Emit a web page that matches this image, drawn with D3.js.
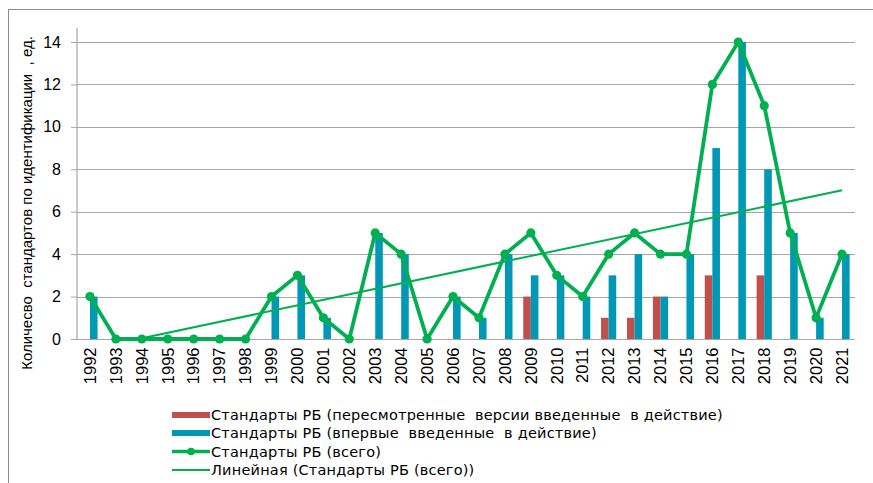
<!DOCTYPE html>
<html><head><meta charset="utf-8">
<script src="https://cdn.jsdelivr.net/npm/d3@7/dist/d3.min.js"></script>
<style>body{margin:0;background:#fff}svg{display:block}text{font-family:"Liberation Sans",Arial,sans-serif;fill:#000}</style>
</head><body><svg id="c" width="873" height="483"></svg>
<script>
const years = ["1992","1993","1994","1995","1996","1997","1998","1999","2000","2001","2002","2003","2004","2005","2006","2007","2008","2009","2010","2011","2012","2013","2014","2015","2016","2017","2018","2019","2020","2021"];
const revised = [0,0,0,0,0,0,0,0,0,0,0,0,0,0,0,0,0,2,0,0,1,1,2,0,3,0,3,0,0,0];
const firstTime = [2,0,0,0,0,0,0,2,3,1,0,5,4,0,2,1,4,3,3,2,3,4,2,4,9,14,8,5,1,4];
const total = [2,0,0,0,0,0,0,2,3,1,0,5,4,0,2,1,4,5,3,2,4,5,4,4,12,14,11,5,1,4];
const yTicks = [0,2,4,6,8,10,12,14];
const legendLabels = ["Стандарты РБ (пересмотренные  версии введенные  в действие)","Стандарты РБ (впервые  введенные  в действие)","Стандарты РБ (всего)","Линейная (Стандарты РБ (всего))"];
const yTitle = "Количесво  стандартов по идентификации  , ед.";

const C = {red:"#C0504D", blue:"#0098B4", green:"#00B050", grid:"#A6A6A6"};
const svg = d3.select("#c");
const L=77, R=855, T=42, B=339;
const x = d3.scaleBand().domain(years).range([L,R]).padding(0);
const y = d3.scaleLinear().domain([0,14]).range([B,T]);
const cx = d => x(d)+x.bandwidth()/2;
const bw = 7.6;

// border
svg.append("rect").attr("x",8.5).attr("y",9.5).attr("width",900).attr("height",600).attr("fill","none").attr("stroke","#8c8c8c").attr("stroke-width",1);

// grid
svg.append("g").selectAll("line").data(yTicks.filter(v=>v>0)).join("line")
  .attr("x1",L).attr("x2",R).attr("y1",d=>Math.round(y(d))+0.5).attr("y2",d=>Math.round(y(d))+0.5)
  .attr("stroke",C.grid).attr("stroke-width",1.2);

// bars
svg.append("g").selectAll("rect").data(years).join("rect")
  .attr("x",(d)=>cx(d)-bw).attr("width",bw)
  .attr("y",(d,i)=>y(revised[i])).attr("height",(d,i)=>y(0)-y(revised[i]))
  .attr("fill",C.red);
svg.append("g").selectAll("rect").data(years).join("rect")
  .attr("x",(d)=>cx(d)).attr("width",bw)
  .attr("y",(d,i)=>y(firstTime[i])).attr("height",(d,i)=>y(0)-y(firstTime[i]))
  .attr("fill",C.blue);

// axes
const yAxis = svg.append("g").attr("transform",`translate(${L},0)`)
  .call(d3.axisLeft(y).tickValues(yTicks).tickSize(6).tickPadding(10).tickFormat(d3.format("d")));
yAxis.select(".domain").attr("stroke",C.grid).attr("stroke-width",1.2).attr("d",`M0,${T-14}V${B}`);
yAxis.selectAll(".tick line").attr("stroke",C.grid).attr("x2",-6);
yAxis.selectAll(".tick text").attr("font-size",16).attr("fill","#000");

const xAxis = svg.append("g").attr("transform",`translate(0,${Math.round(B)+0.5})`)
  .call(d3.axisBottom(x).tickSize(0).tickPadding(0));
xAxis.select(".domain").attr("stroke",C.grid).attr("stroke-width",1.2).attr("d",`M${L},0H${R}`);
xAxis.selectAll(".tick text").attr("font-size",16.5).attr("fill","#000")
  .attr("transform","rotate(-90)").attr("text-anchor","end").attr("dy","0.35em").attr("x",-8).attr("y",0);

// trend line (least squares on total, clipped at 0 like the axis)
const n = total.length, xs = total.map((_,i)=>i+1);
const xm = d3.mean(xs), ym = d3.mean(total);
const slope = d3.sum(xs.map((v,i)=>(v-xm)*(total[i]-ym)))/d3.sum(xs.map(v=>(v-xm)**2));
const icpt = ym - slope*xm;
const x0 = Math.max(1,-icpt/slope);
const px = k => x(years[0]) + x.bandwidth()*(k-0.5);
svg.append("line").attr("x1",px(x0)).attr("y1",y(icpt+slope*x0)).attr("x2",px(n)).attr("y2",y(icpt+slope*n))
  .attr("stroke",C.green).attr("stroke-width",2);

// total line
svg.append("path").datum(total).attr("fill","none").attr("stroke",C.green).attr("stroke-width",3.8).attr("stroke-linejoin","round")
  .attr("d",d3.line().x((d,i)=>cx(years[i])).y(d=>y(d)));
svg.append("g").selectAll("circle").data(total).join("circle")
  .attr("cx",(d,i)=>cx(years[i])).attr("cy",d=>y(d)).attr("r",4.6).attr("fill",C.green);

// y title
svg.append("text").attr("transform","translate(32,203) rotate(-90)").attr("text-anchor","middle")
  .attr("font-size",15).text(yTitle).style("white-space","pre");

// legend
const lg = svg.append("g");
const rows = [415,433,451.5,470];
const sx0=172, sx1=210;
lg.append("rect").attr("x",sx0).attr("y",rows[0]-3).attr("width",sx1-sx0).attr("height",6).attr("fill",C.red);
lg.append("rect").attr("x",sx0).attr("y",rows[1]-3).attr("width",sx1-sx0).attr("height",6).attr("fill",C.blue);
lg.append("line").attr("x1",sx0).attr("x2",sx1).attr("y1",rows[2]).attr("y2",rows[2]).attr("stroke",C.green).attr("stroke-width",3.5);
lg.append("circle").attr("cx",(sx0+sx1)/2).attr("cy",rows[2]).attr("r",3.8).attr("fill",C.green);
lg.append("line").attr("x1",sx0).attr("x2",sx1).attr("y1",rows[3]).attr("y2",rows[3]).attr("stroke",C.green).attr("stroke-width",2);
lg.selectAll("text").data(legendLabels).join("text")
  .attr("x",sx1+1).attr("y",(d,i)=>rows[i]).attr("dy","0.35em").attr("font-size",14.5)
  .style("font-family","'DejaVu Sans',Verdana,sans-serif").style("letter-spacing","0.2px")
  .style("white-space","pre").text(d=>d);
</script></body></html>
